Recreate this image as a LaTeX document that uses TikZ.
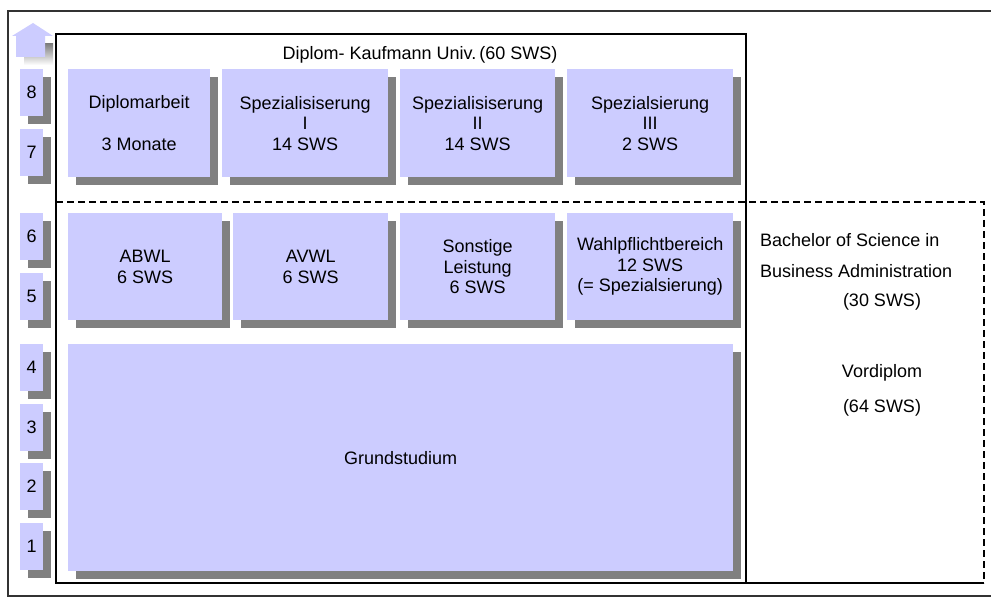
\documentclass[tikz,border=0pt]{standalone}
\usepackage{fontspec}
\setmainfont{Liberation Sans}
\usetikzlibrary{shadows}
\definecolor{boxfill}{HTML}{CCCCFF}
\definecolor{shade}{HTML}{808080}
\definecolor{framecol}{HTML}{333333}
\tikzset{
  x=1pt, y=-1pt,
  lbl/.style={font=\fontsize{18}{20.5}\selectfont, inner sep=0pt},
  block/.style={lbl, rectangle, fill=boxfill, anchor=north west,
    align=center, draw=none,
    drop shadow={shadow xshift=8pt, shadow yshift=-8pt, fill=shade, opacity=1}},
  semblock/.style={block, minimum width=23pt, minimum height=47pt},
  divider/.style={draw=black, line width=1.4pt, dash pattern=on 7pt off 4pt},
}
\begin{document}
\begin{tikzpicture}
\useasboundingbox (0,0) rectangle (991,599);
\fill[white] (0,0) rectangle (991,599);

% outer frame (right edge runs past the page)
\draw[framecol, line width=1.4pt] (1000,11) -- (8,11) -- (8,596) -- (1000,596);

% upward arrow above the semester column
\fill[shade] (24,44) rectangle (53,65);
\fill[boxfill] (12,36) -- (33,23) -- (53,36) -- (45,36) -- (45,57) -- (16,57) -- (16,36) -- cycle;

% semester boxes
\node[semblock] (s8) at (20,69)  {8};
\node[semblock] (s7) at (20,129) {7};
\node[semblock] (s6) at (20,213) {6};
\node[semblock] (s5) at (20,273) {5};
\node[semblock] (s4) at (20,344) {4};
\node[semblock] (s3) at (20,404) {3};
\node[semblock] (s2) at (20,463) {2};
\node[semblock] (s1) at (20,523) {1};

% Diplom frame
\draw[black, line width=1.1pt] (56,34) rectangle (746,583);
\node[lbl] (diplom) at (420,55) {Diplom- Kaufmann Univ.\,(60 SWS)};

% Bachelor / Vordiplom region
\draw[divider] (56,202) -- (984,202) -- (984,583);
\draw[black, line width=1.2pt] (746,583) -- (984,583);

% upper row
\node[block, minimum width=142pt, minimum height=108pt] (da) at (68,69)
  {Diplomarbeit\\[21pt]3 Monate};
\node[block, minimum width=166pt, minimum height=108pt] (sp1) at (222,69)
  {Spezialisiserung\\I\\14 SWS};
\node[block, minimum width=155pt, minimum height=108pt] (sp2) at (400,69)
  {Spezialisiserung\\II\\14 SWS};
\node[block, minimum width=166pt, minimum height=108pt] (sp3) at (567,69)
  {Spezialsierung\\III\\2 SWS};

% middle row
\node[block, minimum width=154pt, minimum height=107pt] (abwl) at (68,213)
  {ABWL\\6 SWS};
\node[block, minimum width=155pt, minimum height=107pt] (avwl) at (233,213)
  {AVWL\\6 SWS};
\node[block, minimum width=155pt, minimum height=107pt] (sonst) at (400,213)
  {Sonstige\\Leistung\\6 SWS};
\node[block, minimum width=166pt, minimum height=107pt] (wahl) at (567,213)
  {Wahlpflichtbereich\\12 SWS\\(= Spezialsierung)};

% foundation block
\node[block, minimum width=665pt, minimum height=227pt] (grund) at (68,344)
  {Grundstudium};

% side labels
\node[lbl, anchor=west] (bsc1) at (760,240) {Bachelor of Science in};
\node[lbl, anchor=west] (bsc2) at (760,271) {Business Administration};
\node[lbl] (bsc3) at (882,302) {(30 SWS)};
\node[lbl] (vd1) at (882,373) {Vordiplom};
\node[lbl] (vd2) at (882,408) {(64 SWS)};
\end{tikzpicture}
\end{document}
